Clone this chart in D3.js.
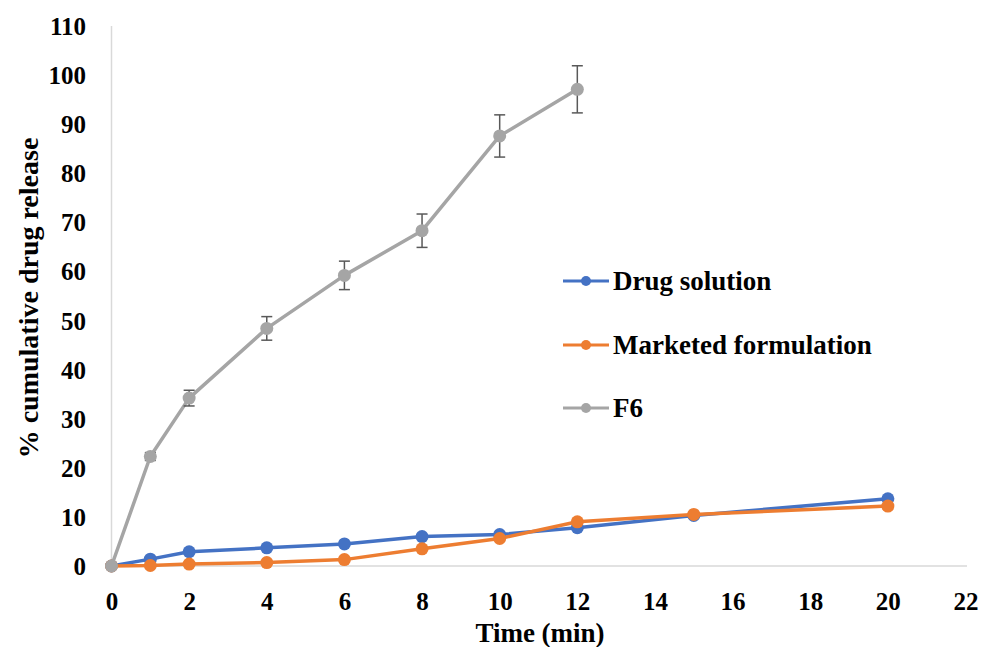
<!DOCTYPE html>
<html>
<head>
<meta charset="utf-8">
<script src="https://cdn.jsdelivr.net/npm/d3@7"></script>
<style>
  html, body { margin: 0; padding: 0; background: #fff; }
  svg text { font-family: "Liberation Serif", "Times New Roman", serif; font-weight: bold; fill: #000; }
</style>
</head>
<body>
<svg id="chart" width="982" height="647"></svg>
<script>
// Sampling times (min)
const timePoints = [0, 1, 2, 4, 6, 8, 10, 12, 15, 20];
const f6Times = [0, 1, 2, 4, 6, 8, 10, 12];

// % cumulative drug release per formulation
const drugSolution = [0, 1.4, 2.9, 3.7, 4.5, 6.0, 6.4, 7.8, 10.3, 13.7];
const marketedFormulation = [0, 0.1, 0.4, 0.7, 1.3, 3.5, 5.6, 9.0, 10.5, 12.2];
const f6Release = [0, 22.3, 34.2, 48.4, 59.2, 68.3, 87.6, 97.1];
const f6Error = [0, 0.8, 1.6, 2.4, 2.9, 3.4, 4.3, 4.8];

const xTicks = [0, 2, 4, 6, 8, 10, 12, 14, 16, 18, 20, 22];
const yTicks = [0, 10, 20, 30, 40, 50, 60, 70, 80, 90, 100, 110];

const seriesNames = ["Drug solution", "Marketed formulation", "F6"];
const seriesColors = ["#4472C4", "#ED7D31", "#A5A5A5"];

const svg = d3.select("#chart");

const x = d3.scaleLinear().domain([0, 22]).range([111.5, 965.5]);
const y = d3.scaleLinear().domain([0, 110]).range([566, 26]);

// Axis lines
const axisColor = "#D9D9D9";
svg.append("line")
  .attr("x1", x(0)).attr("x2", 967)
  .attr("y1", y(0)).attr("y2", y(0))
  .attr("stroke", axisColor).attr("stroke-width", 1.5);
svg.append("line")
  .attr("x1", x(0)).attr("x2", x(0))
  .attr("y1", y(0)).attr("y2", y(110))
  .attr("stroke", axisColor).attr("stroke-width", 1.5);

// Tick labels via d3 axes (no tick lines or domain)
const xAxis = d3.axisBottom(x).tickValues(xTicks).tickSize(0).tickPadding(0).tickFormat(d3.format("d"));
const gx = svg.append("g").attr("transform", `translate(0, ${y(0) + 44})`).call(xAxis);
gx.select(".domain").remove();
gx.selectAll("text").attr("font-size", 25).attr("font-family", null).attr("dy", 0).attr("y", 0);

const yAxis = d3.axisLeft(y).tickValues(yTicks).tickSize(0).tickPadding(0).tickFormat(d3.format("d"));
const gy = svg.append("g").attr("transform", `translate(86, 0)`).call(yAxis);
gy.select(".domain").remove();
gy.selectAll("text").attr("font-size", 25).attr("font-family", null).attr("dy", "0.34em").attr("x", 0);

// Axis titles
svg.append("text")
  .attr("x", 540).attr("y", 642)
  .attr("text-anchor", "middle")
  .attr("font-size", 27)
  .text("Time (min)");

svg.append("text")
  .attr("transform", "translate(38, 298) rotate(-90)")
  .attr("text-anchor", "middle")
  .attr("font-size", 28)
  .text("% cumulative drug release");

// Series
const seriesData = [
  timePoints.map((t, i) => ({ t, v: drugSolution[i] })),
  timePoints.map((t, i) => ({ t, v: marketedFormulation[i] })),
  f6Times.map((t, i) => ({ t, v: f6Release[i], e: f6Error[i] }))
];

const line = d3.line().x(d => x(d.t)).y(d => y(d.v));

seriesData.forEach((data, si) => {
  const g = svg.append("g");
  g.append("path")
    .datum(data)
    .attr("d", line)
    .attr("fill", "none")
    .attr("stroke", seriesColors[si])
    .attr("stroke-width", 3.5)
    .attr("stroke-linejoin", "round");

  if (si === 2) {
    const eb = g.selectAll(".err").data(data.filter(d => d.e > 0)).enter().append("g");
    eb.append("line")
      .attr("x1", d => x(d.t)).attr("x2", d => x(d.t))
      .attr("y1", d => y(d.v + d.e)).attr("y2", d => y(d.v - d.e))
      .attr("stroke", "#595959").attr("stroke-width", 1.5);
    [1, -1].forEach(s => {
      eb.append("line")
        .attr("x1", d => x(d.t) - 5.5).attr("x2", d => x(d.t) + 5.5)
        .attr("y1", d => y(d.v + s * d.e)).attr("y2", d => y(d.v + s * d.e))
        .attr("stroke", "#595959").attr("stroke-width", 1.5);
    });
  }

  g.selectAll("circle").data(data).enter().append("circle")
    .attr("cx", d => x(d.t)).attr("cy", d => y(d.v))
    .attr("r", 6.5)
    .attr("fill", seriesColors[si]);
});

// Legend
const legendRows = [281, 345, 408];
seriesNames.forEach((name, i) => {
  const g = svg.append("g").attr("transform", `translate(563, ${legendRows[i]})`);
  g.append("line").attr("x1", 0).attr("x2", 46).attr("y1", 0).attr("y2", 0)
    .attr("stroke", seriesColors[i]).attr("stroke-width", 3);
  g.append("circle").attr("cx", 23).attr("cy", 0).attr("r", 5).attr("fill", seriesColors[i]);
  g.append("text").attr("x", 50).attr("y", 0).attr("dy", "0.33em")
    .attr("font-size", 27).text(name);
});
</script>
</body>
</html>
